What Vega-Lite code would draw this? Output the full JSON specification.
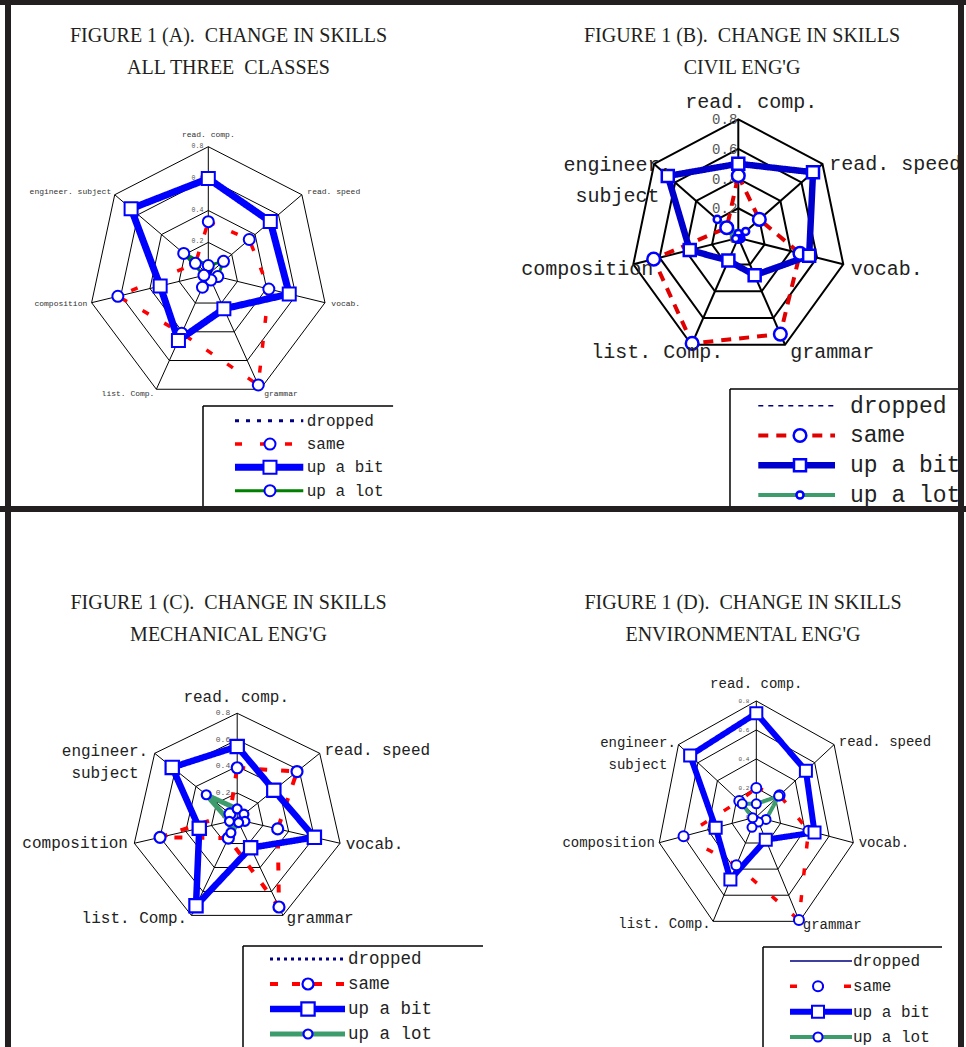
{
"$schema":"https://vega.github.io/schema/vega-lite/v6.json",
"padding":0,"background":"white","spacing":0,
"config":{"view":{"stroke":null}},
"resolve":{"scale":{"x":"independent","y":"independent","color":"independent","strokeDash":"independent","strokeWidth":"independent","shape":"independent","size":"independent"}},
"datasets":{
"axes":[{"k":0,"label":"read. comp.","lv":[0.2,0.4,0.6,0.8]},{"k":1,"label":"read. speed","lv":[0.2,0.4,0.6,0.8]},{"k":2,"label":"vocab.","lv":[0.2,0.4,0.6,0.8]},{"k":3,"label":"grammar","lv":[0.2,0.4,0.6,0.8]},{"k":4,"label":"list. Comp.","lv":[0.2,0.4,0.6,0.8]},{"k":5,"label":"composition","lv":[0.2,0.4,0.6,0.8]},{"k":6,"label":"engineer. subject","lv":[0.2,0.4,0.6,0.8]}],
"ticks":[{"lv":0,"t":"0"},{"lv":0.2,"t":"0.2"},{"lv":0.4,"t":"0.4"},{"lv":0.6,"t":"0.6"},{"lv":0.8,"t":"0.8"}],
"legend":[{"s":"dropped","i":0},{"s":"same","i":1},{"s":"up a bit","i":2},{"s":"up a lot","i":3}],
"a":[{"s":"dropped","k":0,"v":0.01},{"s":"dropped","k":1,"v":0.02},{"s":"dropped","k":2,"v":0.01},{"s":"dropped","k":3,"v":0},{"s":"dropped","k":4,"v":0.01},{"s":"dropped","k":5,"v":0.02},{"s":"dropped","k":6,"v":0.01},
{"s":"same","k":0,"v":0.33},{"s":"same","k":1,"v":0.35},{"s":"same","k":2,"v":0.415},{"s":"same","k":3,"v":0.77},{"s":"same","k":4,"v":0.41},{"s":"same","k":5,"v":0.62},{"s":"same","k":6,"v":0.11},
{"s":"up a bit","k":0,"v":0.6},{"s":"up a bit","k":1,"v":0.53},{"s":"up a bit","k":2,"v":0.555},{"s":"up a bit","k":3,"v":0.24},{"s":"up a bit","k":4,"v":0.46},{"s":"up a bit","k":5,"v":0.33},{"s":"up a bit","k":6,"v":0.66},
{"s":"up a lot","k":0,"v":0.055},{"s":"up a lot","k":1,"v":0.13},{"s":"up a lot","k":2,"v":0.065},{"s":"up a lot","k":3,"v":0.04},{"s":"up a lot","k":4,"v":0.09},{"s":"up a lot","k":5,"v":0.03},{"s":"up a lot","k":6,"v":0.21}],
"b":[{"s":"dropped","k":0,"v":0.01},{"s":"dropped","k":1,"v":0.01},{"s":"dropped","k":2,"v":0},{"s":"dropped","k":3,"v":0.01},{"s":"dropped","k":4,"v":0},{"s":"dropped","k":5,"v":0.01},{"s":"dropped","k":6,"v":0.02},
{"s":"same","k":0,"v":0.42},{"s":"same","k":1,"v":0.2},{"s":"same","k":2,"v":0.47},{"s":"same","k":3,"v":0.72},{"s":"same","k":4,"v":0.79},{"s":"same","k":5,"v":0.645},{"s":"same","k":6,"v":0.11},
{"s":"up a bit","k":0,"v":0.5},{"s":"up a bit","k":1,"v":0.71},{"s":"up a bit","k":2,"v":0.54},{"s":"up a bit","k":3,"v":0.28},{"s":"up a bit","k":4,"v":0.17},{"s":"up a bit","k":5,"v":0.37},{"s":"up a bit","k":6,"v":0.67},
{"s":"up a lot","k":0,"v":0.03},{"s":"up a lot","k":1,"v":0.07},{"s":"up a lot","k":2,"v":0.02},{"s":"up a lot","k":3,"v":0.01},{"s":"up a lot","k":4,"v":0.01},{"s":"up a lot","k":5,"v":0.02},{"s":"up a lot","k":6,"v":0.2}],
"c":[{"s":"dropped","k":0,"v":0.01},{"s":"dropped","k":1,"v":0.02},{"s":"dropped","k":2,"v":0.01},{"s":"dropped","k":3,"v":0.01},{"s":"dropped","k":4,"v":0.02},{"s":"dropped","k":5,"v":0.01},{"s":"dropped","k":6,"v":0.01},
{"s":"same","k":0,"v":0.39},{"s":"same","k":1,"v":0.58},{"s":"same","k":2,"v":0.315},{"s":"same","k":3,"v":0.73},{"s":"same","k":4,"v":0.155},{"s":"same","k":5,"v":0.6},{"s":"same","k":6,"v":0.07},
{"s":"up a bit","k":0,"v":0.55},{"s":"up a bit","k":1,"v":0.355},{"s":"up a bit","k":2,"v":0.6},{"s":"up a bit","k":3,"v":0.235},{"s":"up a bit","k":4,"v":0.72},{"s":"up a bit","k":5,"v":0.295},{"s":"up a bit","k":6,"v":0.63},
{"s":"up a lot","k":0,"v":0.08},{"s":"up a lot","k":1,"v":0.065},{"s":"up a lot","k":2,"v":0.06},{"s":"up a lot","k":3,"v":0.025},{"s":"up a lot","k":4,"v":0.11},{"s":"up a lot","k":5,"v":0.06},{"s":"up a lot","k":6,"v":0.3}],
"d":[{"s":"dropped","k":0,"v":0.01},{"s":"dropped","k":1,"v":0.01},{"s":"dropped","k":2,"v":0.02},{"s":"dropped","k":3,"v":0.01},{"s":"dropped","k":4,"v":0.01},{"s":"dropped","k":5,"v":0},{"s":"dropped","k":6,"v":0.01},
{"s":"same","k":0,"v":0.2},{"s":"same","k":1,"v":0.24},{"s":"same","k":2,"v":0.43},{"s":"same","k":3,"v":0.79},{"s":"same","k":4,"v":0.37},{"s":"same","k":5,"v":0.6},{"s":"same","k":6,"v":0.175},
{"s":"up a bit","k":0,"v":0.715},{"s":"up a bit","k":1,"v":0.51},{"s":"up a bit","k":2,"v":0.48},{"s":"up a bit","k":3,"v":0.175},{"s":"up a bit","k":4,"v":0.48},{"s":"up a bit","k":5,"v":0.335},{"s":"up a bit","k":6,"v":0.68},
{"s":"up a lot","k":0,"v":0.09},{"s":"up a lot","k":1,"v":0.23},{"s":"up a lot","k":2,"v":0.08},{"s":"up a lot","k":3,"v":0.04},{"s":"up a lot","k":4,"v":0.08},{"s":"up a lot","k":5,"v":0.03},{"s":"up a lot","k":6,"v":0.145}]
},
"vconcat":[
{"hconcat":[
{"width":483,"height":509,
"encoding":{"x":{"field":"x","type":"quantitative","axis":null,"scale":{"domain":[-1.3924,1.8363],"nice":false,"zero":false}},"y":{"field":"y","type":"quantitative","axis":null,"scale":{"domain":[-1.4715,1.7198],"nice":false,"zero":false}}},
"layer":[
{"data":{"name":"axes"},"transform":[{"flatten":["lv"]},{"calculate":"datum.lv*sin(2*PI*datum.k/7)","as":"x"},{"calculate":"datum.lv*cos(2*PI*datum.k/7)","as":"y"}],"mark":{"type":"line","interpolate":"linear-closed","color":"#000","strokeWidth":1},"encoding":{"detail":{"field":"lv","type":"nominal"},"order":{"field":"k","type":"quantitative"}}},
{"data":{"name":"axes"},"transform":[{"calculate":"0.8*sin(2*PI*datum.k/7)","as":"x"},{"calculate":"0.8*cos(2*PI*datum.k/7)","as":"y"}],"mark":{"type":"rule","color":"#000","strokeWidth":1},"encoding":{"x2":{"datum":0},"y2":{"datum":0}}},
{"data":{"name":"ticks"},"transform":[{"calculate":"0","as":"x"},{"calculate":"datum.lv","as":"y"}],"mark":{"type":"text","align":"right","baseline":"middle","dx":-5,"dy":-1,"font":"Liberation Mono","fontSize":6.5,"color":"#555"},"encoding":{"text":{"field":"t","type":"nominal"}}},
{"data":{"name":"a"},"transform":[{"calculate":"datum.v*sin(2*PI*datum.k/7)","as":"x"},{"calculate":"datum.v*cos(2*PI*datum.k/7)","as":"y"}],"mark":{"type":"line","interpolate":"linear-closed"},"encoding":{"color":{"field":"s","type":"nominal","legend":null,"scale":{"domain":["dropped","same","up a bit","up a lot"],"range":["#000080","#ff0000","#0000ff","#008000"]}},"strokeDash":{"field":"s","type":"nominal","legend":null,"scale":{"domain":["dropped","same","up a bit","up a lot"],"range":[[4,7],[7,18],[1,0],[1,0]]}},"strokeWidth":{"field":"s","type":"nominal","legend":null,"scale":{"type":"ordinal","domain":["dropped","same","up a bit","up a lot"],"range":[3,3.5,7,3]}},"order":{"field":"k","type":"quantitative"}}},
{"data":{"name":"a"},"transform":[{"filter":"datum.s!='dropped'"},{"calculate":"datum.v*sin(2*PI*datum.k/7)","as":"x"},{"calculate":"datum.v*cos(2*PI*datum.k/7)","as":"y"}],"mark":{"type":"point","filled":true,"fill":"white","stroke":"#0000ff","strokeWidth":2,"opacity":1},"encoding":{"shape":{"field":"s","type":"nominal","legend":null,"scale":{"domain":["same","up a bit","up a lot"],"range":["circle","square","circle"]}},"size":{"field":"s","type":"nominal","legend":null,"scale":{"type":"ordinal","domain":["same","up a bit","up a lot"],"range":[121,169,121]}}}},
{"data":{"name":"axes"},"transform":[{"filter":"datum.k==0"},{"calculate":"0.83*sin(2*PI*datum.k/7)","as":"x"},{"calculate":"0.83*cos(2*PI*datum.k/7)","as":"y"}],"mark":{"type":"text","align":"center","baseline":"middle","dy":-7,"font":"Liberation Mono","fontSize":8,"color":"#333"},"encoding":{"text":{"field":"label","type":"nominal"}}},
{"data":{"name":"axes"},"transform":[{"filter":"datum.k>=1 && datum.k<=3"},{"calculate":"0.83*sin(2*PI*datum.k/7)","as":"x"},{"calculate":"0.83*cos(2*PI*datum.k/7)","as":"y"}],"mark":{"type":"text","align":"left","baseline":"middle","dx":2,"font":"Liberation Mono","fontSize":8,"color":"#333"},"encoding":{"text":{"field":"label","type":"nominal"}}},
{"data":{"name":"axes"},"transform":[{"filter":"datum.k>=4"},{"calculate":"0.83*sin(2*PI*datum.k/7)","as":"x"},{"calculate":"0.83*cos(2*PI*datum.k/7)","as":"y"}],"mark":{"type":"text","align":"right","baseline":"middle","dx":0,"font":"Liberation Mono","fontSize":8,"color":"#333"},"encoding":{"text":{"field":"label","type":"nominal"}}},
{"data":{"values":[{"t":["FIGURE 1 (A).\u00a0 CHANGE IN SKILLS","ALL THREE\u00a0 CLASSES"]}]},"transform":[{"calculate":"0.135","as":"x"},{"calculate":"1.4564","as":"y"}],"mark":{"type":"text","align":"center","baseline":"alphabetic","font":"Liberation Serif","fontSize":20,"lineHeight":32,"color":"#231f20"},"encoding":{"text":{"field":"t","type":"nominal"}}},
{"data":{"values":[{}]},"transform":[{"calculate":"-0.0354","as":"x"},{"calculate":"-0.8257","as":"y"}],"mark":{"type":"rule","color":"#000","strokeWidth":1.5,"clip":true},"encoding":{"x2":{"datum":1.2353}}},
{"data":{"values":[{}]},"transform":[{"calculate":"-0.0354","as":"x"},{"calculate":"-0.8257","as":"y"}],"mark":{"type":"rule","color":"#000","strokeWidth":1.5,"clip":true},"encoding":{"y2":{"datum":-1.4527}}},
{"data":{"name":"legend"},"transform":[{"calculate":"0.1785","as":"x"},{"calculate":"-0.9179-datum.i*0.1463","as":"y"}],"mark":{"type":"rule"},"encoding":{"x2":{"datum":0.635},"color":{"field":"s","type":"nominal","legend":null,"scale":{"domain":["dropped","same","up a bit","up a lot"],"range":["#000080","#ff0000","#0000ff","#008000"]}},"strokeDash":{"field":"s","type":"nominal","legend":null,"scale":{"domain":["dropped","same","up a bit","up a lot"],"range":[[4,7],[7,18],[1,0],[1,0]]}},"strokeWidth":{"field":"s","type":"nominal","legend":null,"scale":{"type":"ordinal","domain":["dropped","same","up a bit","up a lot"],"range":[3,3.5,7,3]}}}},
{"data":{"name":"legend"},"transform":[{"filter":"datum.s!='dropped'"},{"calculate":"0.4124","as":"x"},{"calculate":"-0.9179-datum.i*0.1463","as":"y"}],"mark":{"type":"point","filled":true,"fill":"white","stroke":"#0000ff","strokeWidth":2,"opacity":1},"encoding":{"shape":{"field":"s","type":"nominal","legend":null,"scale":{"domain":["same","up a bit","up a lot"],"range":["circle","square","circle"]}},"size":{"field":"s","type":"nominal","legend":null,"scale":{"type":"ordinal","domain":["same","up a bit","up a lot"],"range":[121,169,121]}}}},
{"data":{"name":"legend"},"transform":[{"calculate":"0.6578","as":"x"},{"calculate":"-0.9179-datum.i*0.1463","as":"y"}],"mark":{"type":"text","align":"left","baseline":"middle","font":"Liberation Mono","fontSize":16,"color":"#222"},"encoding":{"text":{"field":"s","type":"nominal"}}},
{"data":{"values":[{}]},"transform":[{"calculate":"-1.3924","as":"x"},{"calculate":"1.7041","as":"y"}],"mark":{"type":"rule","color":"#231f20","strokeWidth":5,"clip":true},"encoding":{"x2":{"datum":1.8363}}},
{"data":{"values":[{}]},"transform":[{"calculate":"-1.3389","as":"x"},{"calculate":"1.7198","as":"y"}],"mark":{"type":"rule","color":"#231f20","strokeWidth":6,"clip":true},"encoding":{"y2":{"datum":-1.4715}}},
{"data":{"values":[{}]},"transform":[{"calculate":"-1.3924","as":"x"},{"calculate":"-1.4621","as":"y"}],"mark":{"type":"rule","color":"#231f20","strokeWidth":3,"clip":true},"encoding":{"x2":{"datum":1.8363}}}
]},
{"width":483,"height":509,
"encoding":{"x":{"field":"x","type":"quantitative","axis":null,"scale":{"domain":[-1.8967,1.6917],"nice":false,"zero":false}},"y":{"field":"y","type":"quantitative","axis":null,"scale":{"domain":[-1.8287,1.6047],"nice":false,"zero":false}}},
"layer":[
{"data":{"name":"axes"},"transform":[{"flatten":["lv"]},{"calculate":"datum.lv*sin(2*PI*datum.k/7)","as":"x"},{"calculate":"datum.lv*cos(2*PI*datum.k/7)","as":"y"}],"mark":{"type":"line","interpolate":"linear-closed","color":"#000","strokeWidth":2},"encoding":{"detail":{"field":"lv","type":"nominal"},"order":{"field":"k","type":"quantitative"}}},
{"data":{"name":"axes"},"transform":[{"calculate":"0.8*sin(2*PI*datum.k/7)","as":"x"},{"calculate":"0.8*cos(2*PI*datum.k/7)","as":"y"}],"mark":{"type":"rule","color":"#000","strokeWidth":2},"encoding":{"x2":{"datum":0},"y2":{"datum":0}}},
{"data":{"name":"ticks"},"transform":[{"calculate":"0","as":"x"},{"calculate":"datum.lv","as":"y"}],"mark":{"type":"text","align":"right","baseline":"middle","dx":-1,"dy":1,"font":"Liberation Mono","fontSize":14,"color":"#555"},"encoding":{"text":{"field":"t","type":"nominal"}}},
{"data":{"name":"b"},"transform":[{"calculate":"datum.v*sin(2*PI*datum.k/7)","as":"x"},{"calculate":"datum.v*cos(2*PI*datum.k/7)","as":"y"}],"mark":{"type":"line","interpolate":"linear-closed"},"encoding":{"color":{"field":"s","type":"nominal","legend":null,"scale":{"domain":["dropped","same","up a bit","up a lot"],"range":["#000080","#e00000","#0000cc","#3c9c6c"]}},"strokeDash":{"field":"s","type":"nominal","legend":null,"scale":{"domain":["dropped","same","up a bit","up a lot"],"range":[[5,5],[10,8],[1,0],[1,0]]}},"strokeWidth":{"field":"s","type":"nominal","legend":null,"scale":{"type":"ordinal","domain":["dropped","same","up a bit","up a lot"],"range":[1.5,4,6.5,4]}},"order":{"field":"k","type":"quantitative"}}},
{"data":{"name":"b"},"transform":[{"filter":"datum.s!='dropped'"},{"calculate":"datum.v*sin(2*PI*datum.k/7)","as":"x"},{"calculate":"datum.v*cos(2*PI*datum.k/7)","as":"y"}],"mark":{"type":"point","filled":true,"fill":"white","stroke":"#0000ff","strokeWidth":2.5,"opacity":1},"encoding":{"shape":{"field":"s","type":"nominal","legend":null,"scale":{"domain":["same","up a bit","up a lot"],"range":["circle","square","circle"]}},"size":{"field":"s","type":"nominal","legend":null,"scale":{"type":"ordinal","domain":["same","up a bit","up a lot"],"range":[160,144,50]}}}},
{"data":{"name":"axes"},"transform":[{"filter":"datum.k==0"},{"calculate":"0.83*sin(2*PI*datum.k/7)","as":"x"},{"calculate":"0.83*cos(2*PI*datum.k/7)","as":"y"}],"mark":{"type":"text","align":"center","baseline":"middle","dx":13,"dy":-13,"font":"Liberation Mono","fontSize":20,"color":"#222"},"encoding":{"text":{"field":"label","type":"nominal"}}},
{"data":{"name":"axes"},"transform":[{"filter":"datum.k>=1 && datum.k<=3"},{"calculate":"0.83*sin(2*PI*datum.k/7)","as":"x"},{"calculate":"0.83*cos(2*PI*datum.k/7)","as":"y"}],"mark":{"type":"text","align":"left","baseline":"middle","dx":3.5,"dy":3.3,"font":"Liberation Mono","fontSize":20,"color":"#222"},"encoding":{"text":{"field":"label","type":"nominal"}}},
{"data":{"name":"axes"},"transform":[{"filter":"datum.k==4"},{"calculate":"0.83*sin(2*PI*datum.k/7)","as":"x"},{"calculate":"0.83*cos(2*PI*datum.k/7)","as":"y"}],"mark":{"type":"text","align":"right","baseline":"middle","dx":33.5,"dy":3,"font":"Liberation Mono","fontSize":20,"color":"#222"},"encoding":{"text":{"field":"label","type":"nominal"}}},
{"data":{"name":"axes"},"transform":[{"filter":"datum.k==5"},{"calculate":"0.83*sin(2*PI*datum.k/7)","as":"x"},{"calculate":"0.83*cos(2*PI*datum.k/7)","as":"y"}],"mark":{"type":"text","align":"right","baseline":"middle","dx":24,"dy":3.7,"font":"Liberation Mono","fontSize":20,"color":"#222"},"encoding":{"text":{"field":"label","type":"nominal"}}},
{"data":{"name":"axes"},"transform":[{"filter":"datum.k==6"},{"calculate":"0.83*sin(2*PI*datum.k/7)","as":"x"},{"calculate":"0.83*cos(2*PI*datum.k/7)","as":"y"}],"mark":{"type":"text","align":"center","baseline":"middle","dx":-33.4,"dy":3.8,"lineBreak":" ","lineHeight":31,"font":"Liberation Mono","fontSize":20,"color":"#222"},"encoding":{"text":{"field":"label","type":"nominal"}}},
{"data":{"values":[{"t":["FIGURE 1 (B).\u00a0 CHANGE IN SKILLS","CIVIL ENG'G"]}]},"transform":[{"calculate":"0.0275","as":"x"},{"calculate":"1.3214","as":"y"}],"mark":{"type":"text","align":"center","baseline":"alphabetic","font":"Liberation Serif","fontSize":20,"lineHeight":32,"color":"#231f20"},"encoding":{"text":{"field":"t","type":"nominal"}}},
{"data":{"values":[{}]},"transform":[{"calculate":"-0.0617","as":"x"},{"calculate":"-1.0192","as":"y"}],"mark":{"type":"rule","color":"#000","strokeWidth":1.5,"clip":true},"encoding":{"x2":{"datum":1.6545}}},
{"data":{"values":[{}]},"transform":[{"calculate":"-0.0617","as":"x"},{"calculate":"-1.0192","as":"y"}],"mark":{"type":"rule","color":"#000","strokeWidth":1.5,"clip":true},"encoding":{"y2":{"datum":-1.8085}}},
{"data":{"name":"legend"},"transform":[{"calculate":"0.1486","as":"x"},{"calculate":"-1.1319-datum.i*0.2008","as":"y"}],"mark":{"type":"rule"},"encoding":{"x2":{"datum":0.7184},"color":{"field":"s","type":"nominal","legend":null,"scale":{"domain":["dropped","same","up a bit","up a lot"],"range":["#000080","#e00000","#0000cc","#3c9c6c"]}},"strokeDash":{"field":"s","type":"nominal","legend":null,"scale":{"domain":["dropped","same","up a bit","up a lot"],"range":[[5,5],[10,8],[1,0],[1,0]]}},"strokeWidth":{"field":"s","type":"nominal","legend":null,"scale":{"type":"ordinal","domain":["dropped","same","up a bit","up a lot"],"range":[1.5,4,6.5,4]}}}},
{"data":{"name":"legend"},"transform":[{"filter":"datum.s!='dropped'"},{"calculate":"0.4584","as":"x"},{"calculate":"-1.1319-datum.i*0.2008","as":"y"}],"mark":{"type":"point","filled":true,"fill":"white","stroke":"#0000ff","strokeWidth":2.5,"opacity":1},"encoding":{"shape":{"field":"s","type":"nominal","legend":null,"scale":{"domain":["same","up a bit","up a lot"],"range":["circle","square","circle"]}},"size":{"field":"s","type":"nominal","legend":null,"scale":{"type":"ordinal","domain":["same","up a bit","up a lot"],"range":[160,144,50]}}}},
{"data":{"name":"legend"},"transform":[{"calculate":"0.8299","as":"x"},{"calculate":"-1.1319-datum.i*0.2008","as":"y"}],"mark":{"type":"text","align":"left","baseline":"middle","font":"Liberation Mono","fontSize":23,"color":"#222"},"encoding":{"text":{"field":"s","type":"nominal"}}},
{"data":{"values":[{}]},"transform":[{"calculate":"-1.8967","as":"x"},{"calculate":"1.5879","as":"y"}],"mark":{"type":"rule","color":"#231f20","strokeWidth":5,"clip":true},"encoding":{"x2":{"datum":1.6917}}},
{"data":{"values":[{}]},"transform":[{"calculate":"1.6545","as":"x"},{"calculate":"1.6047","as":"y"}],"mark":{"type":"rule","color":"#231f20","strokeWidth":6,"clip":true},"encoding":{"y2":{"datum":-1.8287}}},
{"data":{"values":[{}]},"transform":[{"calculate":"-1.8967","as":"x"},{"calculate":"-1.8186","as":"y"}],"mark":{"type":"rule","color":"#231f20","strokeWidth":3,"clip":true},"encoding":{"x2":{"datum":1.6917}}}
]}
],"spacing":0,"bounds":"flush","resolve":{"scale":{"x":"independent","y":"independent","color":"independent","strokeDash":"independent","strokeWidth":"independent","shape":"independent","size":"independent"}}},
{"hconcat":[
{"width":483,"height":538,
"encoding":{"x":{"field":"x","type":"quantitative","axis":null,"scale":{"domain":[-1.7983,1.8635],"nice":false,"zero":false}},"y":{"field":"y","type":"quantitative","axis":null,"scale":{"domain":[-1.7111,2.3371],"nice":false,"zero":false}}},
"layer":[
{"data":{"name":"axes"},"transform":[{"flatten":["lv"]},{"calculate":"datum.lv*sin(2*PI*datum.k/7)","as":"x"},{"calculate":"datum.lv*cos(2*PI*datum.k/7)","as":"y"}],"mark":{"type":"line","interpolate":"linear-closed","color":"#000","strokeWidth":1},"encoding":{"detail":{"field":"lv","type":"nominal"},"order":{"field":"k","type":"quantitative"}}},
{"data":{"name":"axes"},"transform":[{"calculate":"0.8*sin(2*PI*datum.k/7)","as":"x"},{"calculate":"0.8*cos(2*PI*datum.k/7)","as":"y"}],"mark":{"type":"rule","color":"#000","strokeWidth":1},"encoding":{"x2":{"datum":0},"y2":{"datum":0}}},
{"data":{"name":"ticks"},"transform":[{"calculate":"0","as":"x"},{"calculate":"datum.lv","as":"y"}],"mark":{"type":"text","align":"right","baseline":"middle","dx":-7,"dy":0,"font":"Liberation Mono","fontSize":8,"color":"#555"},"encoding":{"text":{"field":"t","type":"nominal"}}},
{"data":{"name":"c"},"transform":[{"calculate":"datum.v*sin(2*PI*datum.k/7)","as":"x"},{"calculate":"datum.v*cos(2*PI*datum.k/7)","as":"y"}],"mark":{"type":"line","interpolate":"linear-closed"},"encoding":{"color":{"field":"s","type":"nominal","legend":null,"scale":{"domain":["dropped","same","up a bit","up a lot"],"range":["#000080","#ff0000","#0000ff","#3c9c6c"]}},"strokeDash":{"field":"s","type":"nominal","legend":null,"scale":{"domain":["dropped","same","up a bit","up a lot"],"range":[[3,4],[8,14],[1,0],[1,0]]}},"strokeWidth":{"field":"s","type":"nominal","legend":null,"scale":{"type":"ordinal","domain":["dropped","same","up a bit","up a lot"],"range":[3,4,6.5,5]}},"order":{"field":"k","type":"quantitative"}}},
{"data":{"name":"c"},"transform":[{"filter":"datum.s!='dropped'"},{"calculate":"datum.v*sin(2*PI*datum.k/7)","as":"x"},{"calculate":"datum.v*cos(2*PI*datum.k/7)","as":"y"}],"mark":{"type":"point","filled":true,"fill":"white","stroke":"#0000ff","strokeWidth":2.2,"opacity":1},"encoding":{"shape":{"field":"s","type":"nominal","legend":null,"scale":{"domain":["same","up a bit","up a lot"],"range":["circle","square","circle"]}},"size":{"field":"s","type":"nominal","legend":null,"scale":{"type":"ordinal","domain":["same","up a bit","up a lot"],"range":[121,177,81]}}}},
{"data":{"name":"axes"},"transform":[{"filter":"datum.k==0"},{"calculate":"0.83*sin(2*PI*datum.k/7)","as":"x"},{"calculate":"0.83*cos(2*PI*datum.k/7)","as":"y"}],"mark":{"type":"text","align":"center","baseline":"middle","dx":-1,"dy":-12.6,"font":"Liberation Mono","fontSize":16,"color":"#222"},"encoding":{"text":{"field":"label","type":"nominal"}}},
{"data":{"name":"axes"},"transform":[{"filter":"datum.k>=1 && datum.k<=3"},{"calculate":"0.83*sin(2*PI*datum.k/7)","as":"x"},{"calculate":"0.83*cos(2*PI*datum.k/7)","as":"y"}],"mark":{"type":"text","align":"left","baseline":"middle","dx":1.7,"dy":-0.5,"font":"Liberation Mono","fontSize":16,"color":"#222"},"encoding":{"text":{"field":"label","type":"nominal"}}},
{"data":{"name":"axes"},"transform":[{"filter":"datum.k==4 || datum.k==5"},{"calculate":"0.83*sin(2*PI*datum.k/7)","as":"x"},{"calculate":"0.83*cos(2*PI*datum.k/7)","as":"y"}],"mark":{"type":"text","align":"right","baseline":"middle","dx":-2.5,"dy":-1,"font":"Liberation Mono","fontSize":16,"color":"#222"},"encoding":{"text":{"field":"label","type":"nominal"}}},
{"data":{"name":"axes"},"transform":[{"filter":"datum.k==6"},{"calculate":"0.83*sin(2*PI*datum.k/7)","as":"x"},{"calculate":"0.83*cos(2*PI*datum.k/7)","as":"y"}],"mark":{"type":"text","align":"center","baseline":"middle","dx":-46.6,"dy":0,"lineBreak":" ","lineHeight":21.7,"font":"Liberation Mono","fontSize":16,"color":"#222"},"encoding":{"text":{"field":"label","type":"nominal"}}},
{"data":{"values":[{"t":["FIGURE 1 (C).\u00a0 CHANGE IN SKILLS","MECHANICAL ENG'G"]}]},"transform":[{"calculate":"-0.066","as":"x"},{"calculate":"1.5847","as":"y"}],"mark":{"type":"text","align":"center","baseline":"alphabetic","font":"Liberation Serif","fontSize":20,"lineHeight":32,"color":"#231f20"},"encoding":{"text":{"field":"t","type":"nominal"}}},
{"data":{"values":[{}]},"transform":[{"calculate":"0.044","as":"x"},{"calculate":"-0.9511","as":"y"}],"mark":{"type":"rule","color":"#000","strokeWidth":1.5,"clip":true},"encoding":{"x2":{"datum":1.8635}}},
{"data":{"values":[{}]},"transform":[{"calculate":"0.044","as":"x"},{"calculate":"-0.9511","as":"y"}],"mark":{"type":"rule","color":"#000","strokeWidth":1.5,"clip":true},"encoding":{"y2":{"datum":-1.7111}}},
{"data":{"name":"legend"},"transform":[{"calculate":"0.2487","as":"x"},{"calculate":"-1.0489-datum.i*0.1881","as":"y"}],"mark":{"type":"rule"},"encoding":{"x2":{"datum":0.8173},"color":{"field":"s","type":"nominal","legend":null,"scale":{"domain":["dropped","same","up a bit","up a lot"],"range":["#000080","#ff0000","#0000ff","#3c9c6c"]}},"strokeDash":{"field":"s","type":"nominal","legend":null,"scale":{"domain":["dropped","same","up a bit","up a lot"],"range":[[3,4],[8,14],[1,0],[1,0]]}},"strokeWidth":{"field":"s","type":"nominal","legend":null,"scale":{"type":"ordinal","domain":["dropped","same","up a bit","up a lot"],"range":[3,4,6.5,5]}}}},
{"data":{"name":"legend"},"transform":[{"filter":"datum.s!='dropped'"},{"calculate":"0.5368","as":"x"},{"calculate":"-1.0489-datum.i*0.1881","as":"y"}],"mark":{"type":"point","filled":true,"fill":"white","stroke":"#0000ff","strokeWidth":2.2,"opacity":1},"encoding":{"shape":{"field":"s","type":"nominal","legend":null,"scale":{"domain":["same","up a bit","up a lot"],"range":["circle","square","circle"]}},"size":{"field":"s","type":"nominal","legend":null,"scale":{"type":"ordinal","domain":["same","up a bit","up a lot"],"range":[121,177,81]}}}},
{"data":{"name":"legend"},"transform":[{"calculate":"0.84","as":"x"},{"calculate":"-1.0489-datum.i*0.1881","as":"y"}],"mark":{"type":"text","align":"left","baseline":"middle","font":"Liberation Mono","fontSize":17.5,"color":"#222"},"encoding":{"text":{"field":"s","type":"nominal"}}},
{"data":{"values":[{}]},"transform":[{"calculate":"-1.7377","as":"x"},{"calculate":"2.3371","as":"y"}],"mark":{"type":"rule","color":"#231f20","strokeWidth":6,"clip":true},"encoding":{"y2":{"datum":-1.7111}}},
{"data":{"values":[{}]},"transform":[{"calculate":"-1.7983","as":"x"},{"calculate":"2.3258","as":"y"}],"mark":{"type":"rule","color":"#231f20","strokeWidth":3,"clip":true},"encoding":{"x2":{"datum":1.8635}}}
]},
{"width":483,"height":538,
"encoding":{"x":{"field":"x","type":"quantitative","axis":null,"scale":{"domain":[-2.197,1.6857],"nice":false,"zero":false}},"y":{"field":"y","type":"quantitative","axis":null,"scale":{"domain":[-1.588,2.1249],"nice":false,"zero":false}}},
"layer":[
{"data":{"name":"axes"},"transform":[{"flatten":["lv"]},{"calculate":"datum.lv*sin(2*PI*datum.k/7)","as":"x"},{"calculate":"datum.lv*cos(2*PI*datum.k/7)","as":"y"}],"mark":{"type":"line","interpolate":"linear-closed","color":"#000","strokeWidth":1},"encoding":{"detail":{"field":"lv","type":"nominal"},"order":{"field":"k","type":"quantitative"}}},
{"data":{"name":"axes"},"transform":[{"calculate":"0.8*sin(2*PI*datum.k/7)","as":"x"},{"calculate":"0.8*cos(2*PI*datum.k/7)","as":"y"}],"mark":{"type":"rule","color":"#000","strokeWidth":1},"encoding":{"x2":{"datum":0},"y2":{"datum":0}}},
{"data":{"name":"ticks"},"transform":[{"calculate":"0","as":"x"},{"calculate":"datum.lv","as":"y"}],"mark":{"type":"text","align":"right","baseline":"middle","dx":-7,"dy":0,"font":"Liberation Mono","fontSize":6,"color":"#555"},"encoding":{"text":{"field":"t","type":"nominal"}}},
{"data":{"name":"d"},"transform":[{"calculate":"datum.v*sin(2*PI*datum.k/7)","as":"x"},{"calculate":"datum.v*cos(2*PI*datum.k/7)","as":"y"}],"mark":{"type":"line","interpolate":"linear-closed"},"encoding":{"color":{"field":"s","type":"nominal","legend":null,"scale":{"domain":["dropped","same","up a bit","up a lot"],"range":["#000080","#ff0000","#0000ff","#3c9c6c"]}},"strokeDash":{"field":"s","type":"nominal","legend":null,"scale":{"domain":["dropped","same","up a bit","up a lot"],"range":[[1,0],[7,20],[1,0],[1,0]]}},"strokeWidth":{"field":"s","type":"nominal","legend":null,"scale":{"type":"ordinal","domain":["dropped","same","up a bit","up a lot"],"range":[1.5,3.5,6,4]}},"order":{"field":"k","type":"quantitative"}}},
{"data":{"name":"d"},"transform":[{"filter":"datum.s!='dropped'"},{"calculate":"datum.v*sin(2*PI*datum.k/7)","as":"x"},{"calculate":"datum.v*cos(2*PI*datum.k/7)","as":"y"}],"mark":{"type":"point","filled":true,"fill":"white","stroke":"#0000ff","strokeWidth":2,"opacity":1},"encoding":{"shape":{"field":"s","type":"nominal","legend":null,"scale":{"domain":["same","up a bit","up a lot"],"range":["circle","square","circle"]}},"size":{"field":"s","type":"nominal","legend":null,"scale":{"type":"ordinal","domain":["same","up a bit","up a lot"],"range":[100,144,81]}}}},
{"data":{"name":"axes"},"transform":[{"filter":"datum.k==0"},{"calculate":"0.83*sin(2*PI*datum.k/7)","as":"x"},{"calculate":"0.83*cos(2*PI*datum.k/7)","as":"y"}],"mark":{"type":"text","align":"center","baseline":"middle","dy":-12.7,"font":"Liberation Mono","fontSize":14,"color":"#222"},"encoding":{"text":{"field":"label","type":"nominal"}}},
{"data":{"name":"axes"},"transform":[{"filter":"datum.k>=1 && datum.k<=3"},{"calculate":"0.83*sin(2*PI*datum.k/7)","as":"x"},{"calculate":"0.83*cos(2*PI*datum.k/7)","as":"y"}],"mark":{"type":"text","align":"left","baseline":"middle","dx":1.7,"dy":-0.3,"font":"Liberation Mono","fontSize":14,"color":"#222"},"encoding":{"text":{"field":"label","type":"nominal"}}},
{"data":{"name":"axes"},"transform":[{"filter":"datum.k==4 || datum.k==5"},{"calculate":"0.83*sin(2*PI*datum.k/7)","as":"x"},{"calculate":"0.83*cos(2*PI*datum.k/7)","as":"y"}],"mark":{"type":"text","align":"right","baseline":"middle","dx":-0.8,"dy":-0.8,"font":"Liberation Mono","fontSize":14,"color":"#222"},"encoding":{"text":{"field":"label","type":"nominal"}}},
{"data":{"name":"axes"},"transform":[{"filter":"datum.k==6"},{"calculate":"0.83*sin(2*PI*datum.k/7)","as":"x"},{"calculate":"0.83*cos(2*PI*datum.k/7)","as":"y"}],"mark":{"type":"text","align":"center","baseline":"middle","dx":-37.6,"dy":1,"lineBreak":" ","lineHeight":22.3,"font":"Liberation Mono","fontSize":14,"color":"#222"},"encoding":{"text":{"field":"label","type":"nominal"}}},
{"data":{"values":[{"t":["FIGURE 1 (D).\u00a0 CHANGE IN SKILLS","ENVIRONMENTAL ENG'G"]}]},"transform":[{"calculate":"-0.1069","as":"x"},{"calculate":"1.4348","as":"y"}],"mark":{"type":"text","align":"center","baseline":"alphabetic","font":"Liberation Serif","fontSize":20,"lineHeight":32,"color":"#231f20"},"encoding":{"text":{"field":"t","type":"nominal"}}},
{"data":{"values":[{}]},"transform":[{"calculate":"0.0539","as":"x"},{"calculate":"-0.8979","as":"y"}],"mark":{"type":"rule","color":"#000","strokeWidth":1.5,"clip":true},"encoding":{"x2":{"datum":1.4928}}},
{"data":{"values":[{}]},"transform":[{"calculate":"0.0539","as":"x"},{"calculate":"-0.8979","as":"y"}],"mark":{"type":"rule","color":"#000","strokeWidth":1.5,"clip":true},"encoding":{"y2":{"datum":-1.588}}},
{"data":{"name":"legend"},"transform":[{"calculate":"0.2709","as":"x"},{"calculate":"-0.9945-datum.i*0.1748","as":"y"}],"mark":{"type":"rule"},"encoding":{"x2":{"datum":0.7693},"color":{"field":"s","type":"nominal","legend":null,"scale":{"domain":["dropped","same","up a bit","up a lot"],"range":["#000080","#ff0000","#0000ff","#3c9c6c"]}},"strokeDash":{"field":"s","type":"nominal","legend":null,"scale":{"domain":["dropped","same","up a bit","up a lot"],"range":[[1,0],[7,20],[1,0],[1,0]]}},"strokeWidth":{"field":"s","type":"nominal","legend":null,"scale":{"type":"ordinal","domain":["dropped","same","up a bit","up a lot"],"range":[1.5,3.5,6,4]}}}},
{"data":{"name":"legend"},"transform":[{"filter":"datum.s!='dropped'"},{"calculate":"0.496","as":"x"},{"calculate":"-0.9945-datum.i*0.1748","as":"y"}],"mark":{"type":"point","filled":true,"fill":"white","stroke":"#0000ff","strokeWidth":2,"opacity":1},"encoding":{"shape":{"field":"s","type":"nominal","legend":null,"scale":{"domain":["same","up a bit","up a lot"],"range":["circle","square","circle"]}},"size":{"field":"s","type":"nominal","legend":null,"scale":{"type":"ordinal","domain":["same","up a bit","up a lot"],"range":[100,144,81]}}}},
{"data":{"name":"legend"},"transform":[{"calculate":"0.7773","as":"x"},{"calculate":"-0.9945-datum.i*0.1748","as":"y"}],"mark":{"type":"text","align":"left","baseline":"middle","font":"Liberation Mono","fontSize":16,"color":"#222"},"encoding":{"text":{"field":"s","type":"nominal"}}},
{"data":{"values":[{}]},"transform":[{"calculate":"1.6455","as":"x"},{"calculate":"2.1249","as":"y"}],"mark":{"type":"rule","color":"#231f20","strokeWidth":6,"clip":true},"encoding":{"y2":{"datum":-1.588}}},
{"data":{"values":[{}]},"transform":[{"calculate":"-2.197","as":"x"},{"calculate":"2.1146","as":"y"}],"mark":{"type":"rule","color":"#231f20","strokeWidth":3,"clip":true},"encoding":{"x2":{"datum":1.6857}}}
]}
],"spacing":0,"bounds":"flush","resolve":{"scale":{"x":"independent","y":"independent","color":"independent","strokeDash":"independent","strokeWidth":"independent","shape":"independent","size":"independent"}}}
]
}
